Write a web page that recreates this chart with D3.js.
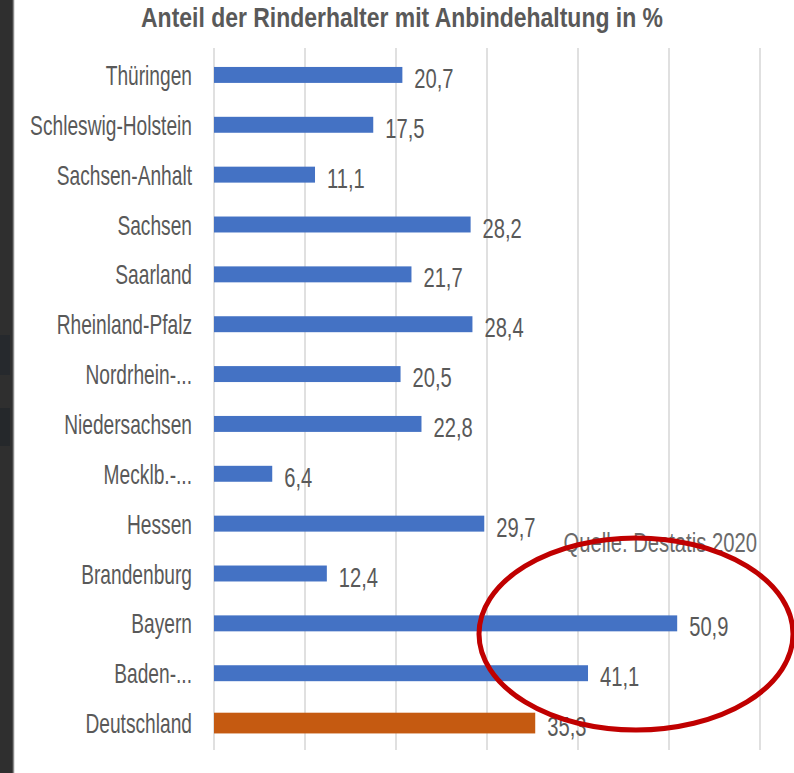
<!DOCTYPE html>
<html>
<head>
<meta charset="utf-8">
<script src="https://cdn.jsdelivr.net/npm/d3@7"></script>
<style>
  html, body { margin: 0; padding: 0; background: #fff; }
  svg { display: block; }
</style>
</head>
<body>
<script>
// Anteil der Rinderhalter mit Anbindehaltung, Destatis 2020
const laender = ["Thüringen", "Schleswig-Holstein", "Sachsen-Anhalt", "Sachsen", "Saarland",
  "Rheinland-Pfalz", "Nordrhein-...", "Niedersachsen", "Mecklb.-...", "Hessen",
  "Brandenburg", "Bayern", "Baden-...", "Deutschland"];
const anteile = [20.7, 17.5, 11.1, 28.2, 21.7, 28.4, 20.5, 22.8, 6.4, 29.7, 12.4, 50.9, 41.1, 35.3];
const xTicks = [0, 10, 20, 30, 40, 50, 60];

const W = 794, H = 773;
const grey = "#595959";

const svg = d3.select("body").append("svg").attr("width", W).attr("height", H);

// dark window edge at the left
svg.append("rect").attr("x", 0).attr("y", 0).attr("width", 13).attr("height", H).attr("fill", "#2f2f2f");
svg.append("rect").attr("x", 0).attr("y", 335).attr("width", 10).attr("height", 40).attr("fill", "#26292d");
svg.append("rect").attr("x", 0).attr("y", 408).attr("width", 10).attr("height", 38).attr("fill", "#25282b");
svg.append("line").attr("x1", 13.5).attr("x2", 13.5).attr("y1", 0).attr("y2", H)
  .attr("stroke", "#8a8a8a").attr("stroke-width", 1.5);

const x = d3.scaleLinear().domain([0, 60]).range([214, 760]);
const y = d3.scaleBand().domain(laender).range([50, 748]).paddingInner(0.68).paddingOuter(0.34);

// gridlines
svg.append("g").selectAll("line").data(xTicks).join("line")
  .attr("x1", d => x(d)).attr("x2", d => x(d))
  .attr("y1", 48).attr("y2", 750)
  .attr("stroke", "#d6d6d6").attr("stroke-width", 1.5);

// bars
const rows = laender.map((l, i) => ({ land: l, wert: anteile[i] }));
const barH = d => d.land === "Deutschland" ? y.bandwidth() * 1.3 : y.bandwidth();
svg.append("g").selectAll("rect").data(rows).join("rect")
  .attr("x", x(0))
  .attr("y", d => y(d.land) + y.bandwidth() / 2 - barH(d) / 2)
  .attr("width", d => x(d.wert) - x(0))
  .attr("height", barH)
  .attr("fill", d => d.land === "Deutschland" ? "#c55a11" : "#4472c4");

// the screenshot is squeezed sideways, so text gets a horizontal scale
function squeezed(g, tx, ty, txt, anchor, size, weight, fill, sx) {
  g.append("text")
    .attr("transform", `translate(${tx},${ty}) scale(${sx},1)`)
    .attr("text-anchor", anchor)
    .attr("font-family", "Liberation Sans, Arial, sans-serif")
    .attr("font-size", size)
    .attr("font-weight", weight)
    .attr("fill", fill)
    .text(txt);
}

// category labels
const lab = svg.append("g");
rows.forEach(d => {
  const c = y(d.land) + y.bandwidth() / 2;
  squeezed(lab, 192, c + 10, d.land, "end", 27, "normal", grey, 0.71);
});

// value labels
const val = svg.append("g");
rows.forEach(d => {
  const c = y(d.land) + y.bandwidth() / 2;
  squeezed(val, x(d.wert) + 12, c + 13, d3.format(".1f")(d.wert).replace(".", ","), "start", 28, "normal", grey, 0.72);
});

// title
squeezed(svg, 402, 27, "Anteil der Rinderhalter mit Anbindehaltung in %", "middle", 28, "bold", grey, 0.82);

// source
squeezed(svg, 757, 552, "Quelle: Destatis 2020", "end", 27, "normal", "#6a6a6a", 0.75);

// red ellipse marking Bayern / Baden
svg.append("ellipse")
  .attr("cx", 636).attr("cy", 634).attr("rx", 157).attr("ry", 96)
  .attr("fill", "none").attr("stroke", "#c00000").attr("stroke-width", 5);
</script>
</body>
</html>
